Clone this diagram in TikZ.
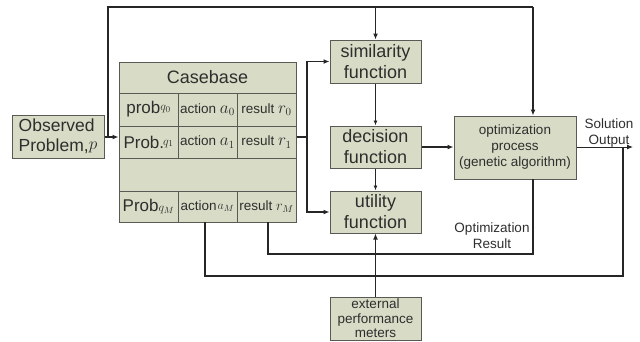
\documentclass[tikz,border=0pt]{standalone}
\usepackage{fontspec}
\setmainfont{Liberation Sans}
\usetikzlibrary{arrows.meta}
\definecolor{boxfill}{HTML}{D8DCC6}
\definecolor{boxdraw}{HTML}{5A5A55}
\definecolor{txt}{HTML}{2E2E2E}
\definecolor{wire}{HTML}{262626}
\newcommand{\mth}[2]{{\fontsize{#1}{#1}\selectfont$#2$}}
\newcommand{\supq}[1]{\raisebox{3pt}{\fontsize{13}{13}\selectfont$#1$}}
\tikzset{
  blk/.style={draw=boxdraw, fill=boxfill, line width=1pt, inner sep=0pt, align=center, text=txt},
  cell/.style={blk, minimum width=59pt, minimum height=32pt},
  small/.style={font=\fontsize{13.5}{16}\selectfont},
  big/.style={font=\fontsize{18}{21}\selectfont},
  prb/.style={font=\fontsize{17}{20}\selectfont},
  conn/.style={draw=wire, line width=1.6pt},
  arr/.style={conn, -{Latex[length=6pt,width=5pt]}},
  thinarr/.style={draw=wire, line width=0.9pt, -{Latex[length=5pt,width=4pt]}},
  lbl/.style={text=txt, align=center, inner sep=0pt}
}
\begin{document}
\begin{tikzpicture}[x=1pt,y=-1pt]
\useasboundingbox (0,0) rectangle (640,341);
% Observed problem
\node[blk, minimum width=92pt, minimum height=43pt, align=left, inner sep=1pt, font=\fontsize{17.5}{20}\selectfont] (obs) at (58,136.5) {Observed\\Problem,\raisebox{2pt}{\mth{16}{p}}};
% Casebase
\node[blk, minimum width=177pt, minimum height=31pt, big] (cbh) at (207.5,77.5) {Casebase};
\node[cell, minimum height=33pt, prb] (p0) at (148.5,109.5) {prob\supq{q_0}};
\node[cell, minimum height=33pt, small] (a0) at (207.5,109.5) {action \mth{16}{a_0}};
\node[cell, minimum height=33pt, small] (r0) at (266.5,109.5) {result \mth{16}{r_0}};
\node[cell, prb] (p1) at (148.5,142) {Prob.\kern-1pt\supq{q_1}};
\node[cell, small] (a1) at (207.5,142) {action \mth{16}{a_1}};
\node[cell, small] (r1) at (266.5,142) {result \mth{16}{r_1}};
\node[blk, minimum width=177pt, minimum height=33pt] (emp) at (207.5,174.5) {};
\node[cell, minimum height=31pt, prb] (pM) at (148.5,206.5) {Prob\mth{13}{q_M}};
\node[cell, minimum height=31pt, small] (aM) at (207.5,206.5) {action\kern1pt\raisebox{1pt}{\mth{13}{a_M}}};
\node[cell, minimum height=31pt, small] (rM) at (266.5,206.5) {result \mth{14}{r_M}};
% functions
\node[blk, minimum width=91pt, minimum height=43pt, big] (sim) at (375.5,61.5) {similarity\\function};
\node[blk, minimum width=91pt, minimum height=42pt, big] (dec) at (375.5,147) {decision\\function};
\node[blk, minimum width=91pt, minimum height=42pt, big] (uti) at (375.5,212) {utility\\function};
\node[blk, minimum width=91pt, minimum height=43pt, font=\fontsize{13.5}{14.5}\selectfont] (ext) at (375.5,318.5) {external\\performance\\meters};
\node[blk, minimum width=122pt, minimum height=63pt, font=\fontsize{13.5}{16}\selectfont] (opt) at (515,147.5) {optimization\\process\\(genetic algorithm)};
% labels
\node[lbl, font=\fontsize{13.5}{16.5}\selectfont] (solout) at (609,133) {Solution\\Output};
\node[lbl, font=\fontsize{13.5}{16}\selectfont] (optres) at (492,235.5) {Optimization\\Result};
% coordinates
\coordinate (jl) at (108,137);
\coordinate (tl) at (108,7);
\coordinate (tr) at (533,7);
\coordinate (tm) at (375.5,7);
\coordinate (vr) at (307,137);
\coordinate (outend) at (633,147);
\coordinate (outj) at (623,147);
% connectors
\draw[arr] (obs.east |- jl) -- (jl -| p1.west);
\draw[conn] (jl) -- (tl) -- (tr);
\draw[arr] (tr) -- (tr |- opt.north);
\draw[arr] (tm) -- (sim.north);
\draw[conn] (r1.east |- vr) -- (vr);
\draw[arr] (vr) |- (sim.west);
\draw[arr] (vr) |- (uti.west);
\draw[thinarr] (sim.south) -- (dec.north);
\draw[thinarr] (dec.south) -- (uti.north);
\draw[arr] (dec.east) -- (opt.west |- dec.east);
\draw[arr] (ext.north) -- (uti.south);
\draw[arr, line width=1pt] (opt.east |- outend) -- (outend);
\draw[conn] (outj) -- (623,276) -- (205,276) -- (205,222);
\draw[conn] (268,222) -- (268,254) -- (533,254) -- (533,179);
\end{tikzpicture}
\end{document}
